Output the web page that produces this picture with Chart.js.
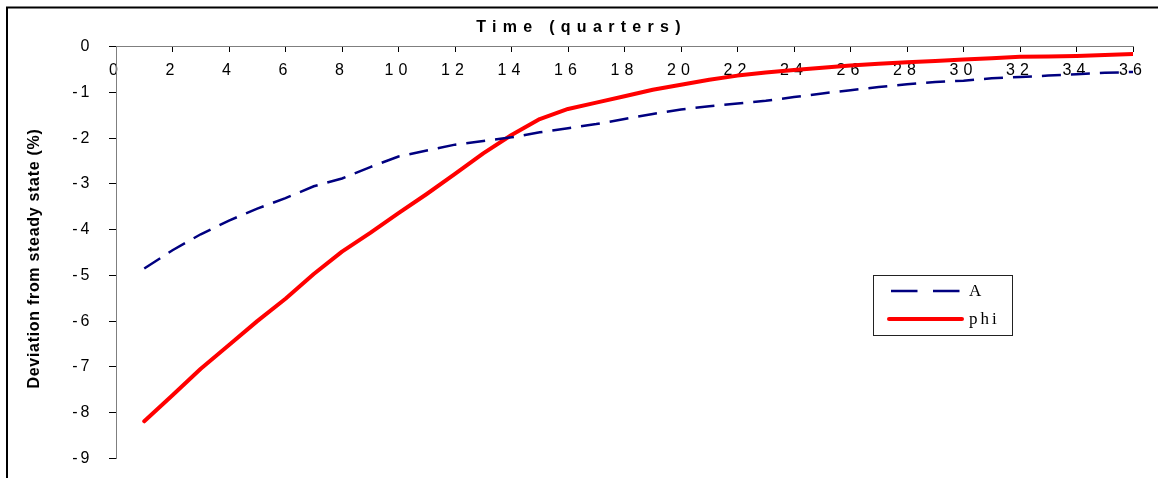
<!DOCTYPE html>
<html><head><meta charset="utf-8">
<script src="https://cdn.jsdelivr.net/npm/chart.js@4/dist/chart.umd.min.js"></script>
<style>html,body{margin:0;padding:0;background:#fff;}canvas{display:block;}</style>
</head><body>
<canvas id="c" width="1158" height="478"></canvas>
<script>
// ---- data ----
const quarters = [1,2,3,4,5,6,7,8,9,10,11,12,13,14,15,16,17,18,19,20,21,22,23,24,25,26,27,28,29,30,31,32,33,34,35,36];
const seriesA = [-4.85,-4.45,-4.10,-3.80,-3.54,-3.31,-3.05,-2.88,-2.63,-2.40,-2.27,-2.14,-2.06,-1.98,-1.87,-1.78,-1.69,-1.58,-1.47,-1.37,-1.30,-1.24,-1.18,-1.10,-1.02,-0.95,-0.88,-0.82,-0.77,-0.74,-0.69,-0.66,-0.63,-0.60,-0.57,-0.55];
const seriesPhi = [-8.19,-7.62,-7.04,-6.52,-6.00,-5.51,-4.97,-4.48,-4.07,-3.64,-3.22,-2.78,-2.33,-1.93,-1.58,-1.36,-1.22,-1.08,-0.94,-0.83,-0.72,-0.63,-0.56,-0.51,-0.46,-0.41,-0.37,-0.34,-0.31,-0.28,-0.25,-0.22,-0.21,-0.20,-0.18,-0.16];
const xTickValues = [0,2,4,6,8,10,12,14,16,18,20,22,24,26,28,30,32,34,36];
const yTickValues = [0,-1,-2,-3,-4,-5,-6,-7,-8,-9];
const seriesNames = ['A','phi'];
const chartTitle = 'Time (quarters)';
const yAxisTitle = 'Deviation from steady state (%)';

const SANS = '"Liberation Sans", Arial, sans-serif';
const SERIF = '"Liberation Serif", "Times New Roman", serif';
Chart.defaults.font.family = SANS;
Chart.defaults.color = '#000';

function wrap(obj, name, spacing, dx, dy) {
  if (!obj || obj['__w_' + name]) return;
  const orig = obj[name];
  obj[name] = function (...args) {
    const c = this.ctx;
    c.save();
    try { c.letterSpacing = spacing; } catch (e) {}
    if (dx || dy) c.translate(dx || 0, dy || 0);
    orig.apply(this, args);
    c.restore();
  };
  obj['__w_' + name] = true;
}

const spacingPlugin = {
  id: 'spacing',
  afterLayout(chart) {
    wrap(chart.scales.x, 'drawLabels', '5px');
    wrap(chart.scales.y, 'drawLabels', '3px');
    wrap(chart.scales.y, 'drawTitle', '0.7px', 0, 6);
    if (chart.titleBlock) wrap(chart.titleBlock, 'draw', '6.3px', 15, 1);
  }
};

const frameAndLegend = {
  id: 'frameAndLegend',
  beforeDraw(chart) {
    const ctx = chart.ctx;
    ctx.save();
    ctx.fillStyle = '#fff';
    ctx.fillRect(0, 0, chart.width, chart.height);
    ctx.strokeStyle = '#000';
    ctx.lineWidth = 2;
    ctx.beginPath();
    ctx.moveTo(7, chart.height + 2);
    ctx.lineTo(7, 7.5);
    ctx.lineTo(chart.width + 2, 7.5);
    ctx.stroke();
    ctx.restore();
  },
  afterDraw(chart) {
    const ctx = chart.ctx;
    const ds = chart.data.datasets;
    ctx.save();
    ctx.strokeStyle = '#222';
    ctx.lineWidth = 1;
    ctx.strokeRect(873.5, 275.5, 139, 60);
    const rows = [291, 319];
    ds.forEach((d, i) => {
      ctx.save();
      ctx.strokeStyle = d.borderColor;
      ctx.lineWidth = d.borderWidth;
      ctx.lineCap = d.borderDash ? 'butt' : 'round';
      ctx.setLineDash(d.borderDash ? [26.5, 15.5] : []);
      ctx.beginPath();
      ctx.moveTo(d.borderDash ? 891 : 889, rows[i]);
      ctx.lineTo(d.borderDash ? 960 : 962, rows[i]);
      ctx.stroke();
      ctx.restore();
      ctx.fillStyle = '#000';
      ctx.font = '17px ' + SERIF;
      ctx.textBaseline = 'middle';
      ctx.textAlign = 'left';
      try { ctx.letterSpacing = '3px'; } catch (e) {}
      ctx.fillText(d.label, 969, rows[i] + 1);
    });
    ctx.restore();
  }
};

new Chart(document.getElementById('c'), {
  type: 'line',
  data: {
    datasets: [
      {
        label: seriesNames[0],
        data: quarters.map((q, i) => ({ x: q, y: seriesA[i] })),
        borderColor: '#000080',
        borderWidth: 2.5,
        borderDash: [19, 10],
        pointRadius: 0,
        tension: 0,
        fill: false
      },
      {
        label: seriesNames[1],
        data: quarters.map((q, i) => ({ x: q, y: seriesPhi[i] })),
        borderColor: '#ff0000',
        borderWidth: 4,
        borderCapStyle: 'round',
        borderJoinStyle: 'round',
        pointRadius: 0,
        tension: 0,
        fill: false
      }
    ]
  },
  options: {
    responsive: false,
    animation: false,
    devicePixelRatio: 1,
    layout: { padding: { left: 0, right: 25, top: 0, bottom: 19.7 } },
    plugins: {
      legend: { display: false },
      tooltip: { enabled: false },
      title: {
        display: true,
        text: chartTitle,
        font: { size: 16, weight: 'bold', family: SANS },
        color: '#000',
        padding: { top: 16.6, bottom: 11.0 }
      }
    },
    scales: {
      x: {
        type: 'linear',
        position: { y: 0 },
        min: 0, max: 36,
        afterBuildTicks: (s) => { s.ticks = xTickValues.map(v => ({ value: v })); },
        afterFit: (s) => { s.height = 0; s.paddingTop = 0; s.paddingBottom = 0; s.paddingLeft = 0; s.paddingRight = 0; },
        ticks: { font: { size: 16 }, color: '#000', padding: 9.4, maxRotation: 0, autoSkip: false, callback: v => String(v) },
        grid: { drawOnChartArea: false, drawTicks: true, tickLength: 5, color: '#000', lineWidth: 1 },
        border: { display: true, color: '#7f7f7f', width: 1 }
      },
      y: {
        type: 'linear',
        position: 'left',
        min: -9, max: 0,
        afterBuildTicks: (s) => { s.ticks = yTickValues.map(v => ({ value: v })); },
        afterFit: (s) => { s.width = 116; s.paddingTop = 0; s.paddingBottom = 0; },
        ticks: { font: { size: 16 }, color: '#000', padding: 16.5, callback: v => String(v) },
        grid: { drawOnChartArea: false, drawTicks: true, tickLength: 7, color: '#000', lineWidth: 1 },
        border: { display: true, color: '#7f7f7f', width: 1 },
        title: {
          display: true,
          text: yAxisTitle,
          font: { size: 16, weight: 'bold', family: SANS },
          color: '#000',
          padding: { top: 25, bottom: 0 }
        }
      }
    }
  },
  plugins: [spacingPlugin, frameAndLegend]
});
</script>
</body></html>
